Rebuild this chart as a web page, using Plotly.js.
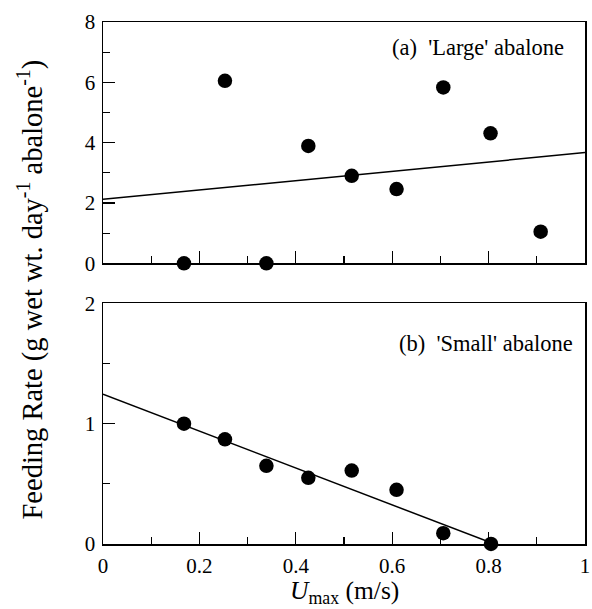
<!DOCTYPE html>
<html>
<head>
<meta charset="utf-8">
<script src="https://cdn.plot.ly/plotly-3.0.1.min.js"></script>
<style>body{margin:0;padding:0;background:#fff;} #chart{width:592px;height:609px;}</style>
</head>
<body>
<div id="chart"></div>
<script>
// Data
const largeX = [0.168, 0.253, 0.339, 0.426, 0.516, 0.609, 0.706, 0.804, 0.908];
const largeY = [0.0, 6.05, 0.0, 3.89, 2.90, 2.46, 5.83, 4.31, 1.05];
const largeFitX = [0, 1];
const largeFitY = [2.12, 3.67];

const smallX = [0.168, 0.253, 0.339, 0.426, 0.516, 0.609, 0.706, 0.805];
const smallY = [1.0, 0.87, 0.65, 0.55, 0.61, 0.45, 0.09, 0.0];
const smallFitX = [0, 0.812];
const smallFitY = [1.244, 0.0];

const xTickVals = [0, 0.2, 0.4, 0.6, 0.8, 1];
const xTickText = ['0', '0.2', '0.4', '0.6', '0.8', '1'];
const topYTicks = [0, 2, 4, 6, 8];
const botYTicks = [0, 1, 2];

const FONT = "'Liberation Serif', 'Times New Roman', 'DejaVu Serif', serif";
const marker = {size: 14.5, color: '#000'};

const traces = [
  {x: largeFitX, y: largeFitY, mode: 'lines', line: {color: '#000', width: 1.5}, xaxis: 'x', yaxis: 'y', hoverinfo: 'skip'},
  {x: largeX, y: largeY, mode: 'markers', marker: marker, xaxis: 'x', yaxis: 'y', cliponaxis: false},
  {x: smallFitX, y: smallFitY, mode: 'lines', line: {color: '#000', width: 1.5}, xaxis: 'x2', yaxis: 'y2', hoverinfo: 'skip'},
  {x: smallX, y: smallY, mode: 'markers', marker: marker, xaxis: 'x2', yaxis: 'y2', cliponaxis: false}
];

const axBase = {
  showline: true, mirror: true, linecolor: '#000', linewidth: 1.5,
  showgrid: false, zeroline: false,
  ticks: 'inside', ticklen: 12, tickwidth: 1.3, tickcolor: '#000',
  tickfont: {family: FONT, size: 21, color: '#000'},
  fixedrange: true
};

const layout = {
  width: 592, height: 609,
  margin: {l: 103, r: 7, t: 22, b: 65},
  paper_bgcolor: '#fff', plot_bgcolor: '#fff',
  showlegend: false,
  font: {family: FONT, color: '#000'},
  xaxis: Object.assign({}, axBase, {
    domain: [0, 1], range: [0, 1], anchor: 'y',
    tickvals: xTickVals, ticktext: xTickText, showticklabels: false,
    minor: {dtick: 0.1, tick0: 0, ticks: 'inside', ticklen: 7, tickwidth: 1.3, tickcolor: '#000', showgrid: false}
  }),
  yaxis: Object.assign({}, axBase, {
    domain: [0.5377, 1], range: [0, 8], anchor: 'x',
    tickvals: topYTicks, ticklabelstandoff: 2,
    minor: {dtick: 1, tick0: 0, ticks: 'inside', ticklen: 7, tickwidth: 1.3, tickcolor: '#000', showgrid: false}
  }),
  xaxis2: Object.assign({}, axBase, {
    domain: [0, 1], range: [0, 1], anchor: 'y2',
    tickvals: xTickVals, ticktext: xTickText, ticklabelstandoff: 2,
    minor: {dtick: 0.1, tick0: 0, ticks: 'inside', ticklen: 7, tickwidth: 1.3, tickcolor: '#000', showgrid: false}
  }),
  yaxis2: Object.assign({}, axBase, {
    domain: [0, 0.4611], range: [0, 2], anchor: 'x2',
    tickvals: botYTicks, ticklabelstandoff: 2,
    minor: {dtick: 0.5, tick0: 0, ticks: 'inside', ticklen: 7, tickwidth: 1.3, tickcolor: '#000', showgrid: false}
  }),
  annotations: [
    {xref: 'x', yref: 'y', x: 0.96, y: 7.14, xanchor: 'right', yanchor: 'middle', showarrow: false,
     text: "(a)\u00a0 'Large' abalone", font: {family: FONT, size: 22.5, color: '#000'}},
    {xref: 'x2', yref: 'y2', x: 0.979, y: 1.67, xanchor: 'right', yanchor: 'middle', showarrow: false,
     text: "(b)\u00a0 'Small' abalone", font: {family: FONT, size: 22.5, color: '#000'}},
    {xref: 'paper', yref: 'paper', x: -0.15, y: 0.487, xanchor: 'center', yanchor: 'middle', showarrow: false,
     textangle: -90,
     text: 'Feeding Rate (g wet wt. day<sup>-1</sup> abalone<sup>-1</sup>)', font: {family: FONT, size: 28.5, color: '#000'}},
    {xref: 'paper', yref: 'paper', x: 0.5, y: -0.092, xanchor: 'center', yanchor: 'middle', showarrow: false,
     text: '<i>U</i><sub>max</sub> (m/s)', font: {family: FONT, size: 25.5, color: '#000'}}
  ]
};

Plotly.newPlot('chart', traces, layout, {displayModeBar: false, staticPlot: true});
</script>
</body>
</html>
